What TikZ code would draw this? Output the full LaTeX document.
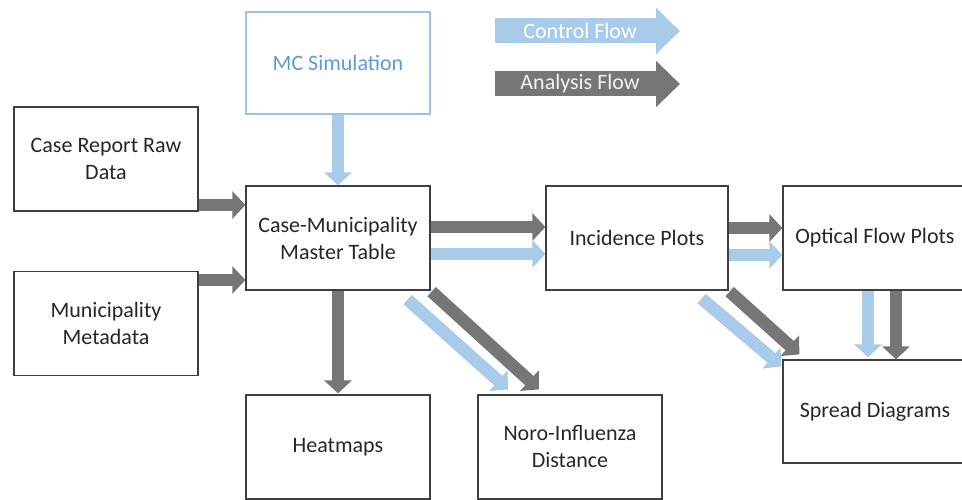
\documentclass[tikz,border=0pt]{standalone}
\usepackage{fontspec}
\setmainfont{Carlito}
\usetikzlibrary{arrows.meta}
\definecolor{ctrlblue}{HTML}{A9CBEA}
\definecolor{anagray}{HTML}{767676}
\definecolor{mcblue}{HTML}{5B9BD5}
\definecolor{mcline}{HTML}{9DC3E6}
\definecolor{boxline}{HTML}{3F3F3F}

\begin{document}
\begin{tikzpicture}[x=1pt,y=-1pt]
        \tikzset{box/.style = {shape=rectangle,draw=boxline,line width=1.2pt,minimum width=184pt,minimum height=104pt,align=center,font=\fontsize{22}{27}\selectfont,text=black!85}}
        \tikzset{mcbox/.style = {box,draw=mcline,text=mcblue}}
        \tikzset{ctrl/.style = {draw=ctrlblue,line width=12.5pt,-{Triangle[length=13pt,width=27pt]}}}
        \tikzset{ana/.style = {draw=anagray,line width=12.5pt,-{Triangle[length=13pt,width=27pt]}}}
        \tikzset{legend/.style = {line width=25pt,-{Triangle[length=24pt,width=45pt]}}}
        \clip (0,0) rectangle (962,500);
        \node[mcbox] (mc) at (338, 63) [minimum height=102pt] {MC Simulation};
        \node[box] (report) at (106, 159) {Case Report Raw\\Data};
        \node[box] (meta) at (106, 323.5) {Municipality\\Metadata};
        \node[box] (master) at (338, 238) {Case-Municipality\\Master Table};
        \node[box] (inc) at (637, 238) [minimum width=182pt] {Incidence Plots};
        \node[box] (optical) at (875, 238) {Optical Flow Plots};
        \node[box] (spread) at (875, 411.5) [minimum height=103pt] {Spread Diagrams};
        \node[box] (heat) at (338, 447) {Heatmaps};
        \node[box] (noro) at (570, 447) {Noro-Influenza\\Distance};
        % legend
        \coordinate (c1) at (495, 31);
        \coordinate (c2) at (680, 31);
        \coordinate (a1) at (495, 84);
        \coordinate (a2) at (680, 84);
        \draw[legend,draw=ctrlblue] (c1) to node[pos=0.46,text=white,font=\fontsize{22}{27}\selectfont] (ctrltext) {Control Flow} (c2);
        \draw[legend,draw=anagray] (a1) to node[pos=0.46,text=white!90!gray,font=\fontsize{22}{27}\selectfont] (anatext) {Analysis Flow} (a2);
        % flows
        \draw[ctrl] (mc.south) to (master.north);
        \draw[ana] ([yshift=-46pt]report.east) to ([yshift=33pt]master.west);
        \draw[ana] ([yshift=43.5pt]meta.east) to ([yshift=-42pt]master.west);
        \draw[ana] ([yshift=11pt]master.east) to ([yshift=11pt]inc.west);
        \draw[ctrl] ([yshift=-16pt]master.east) to ([yshift=-16pt]inc.west);
        \draw[ana] ([yshift=10pt]inc.east) to ([yshift=10pt]optical.west);
        \draw[ctrl] ([yshift=-17pt]inc.east) to ([yshift=-17pt]optical.west);
        \draw[ana] (master.south) to ([yshift=1pt]heat.north);
        \draw[ctrl] ([xshift=-23pt,yshift=-9pt]master.south east) to ([xshift=-62pt,yshift=5pt]noro.north);
        \draw[ana] ([xshift=1pt,yshift=-1pt]master.south east) to ([xshift=-31pt,yshift=5pt]noro.north);
        \draw[ctrl] ([xshift=-27pt,yshift=-8pt]inc.south east) to ([xshift=-1pt,yshift=-7pt]spread.north west);
        \draw[ana] ([xshift=1pt,yshift=-1pt]inc.south east) to ([xshift=17pt,yshift=5pt]spread.north west);
        \draw[ctrl] ([xshift=-7pt]optical.south) to ([xshift=-7pt,yshift=2pt]spread.north);
        \draw[ana] ([xshift=21pt]optical.south) to ([xshift=21pt]spread.north);
      \end{tikzpicture}
\end{document}
